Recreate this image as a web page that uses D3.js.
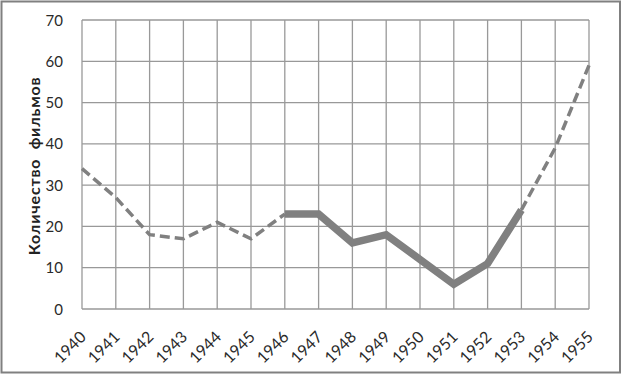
<!DOCTYPE html>
<html><head><meta charset="utf-8">
<script src="https://cdn.jsdelivr.net/npm/d3@7"></script>
<style>body{margin:0;background:#fff;} svg{display:block;}</style>
</head><body>
<svg id="c" width="624" height="375"></svg>
<script>
const years = [1940,1941,1942,1943,1944,1945,1946,1947,1948,1949,1950,1951,1952,1953,1954,1955];
const films = [34,27,18,17,21,17,23,23,16,18,12,6,11,24,39,59];
const yTicks = [0,10,20,30,40,50,60,70];
const yTitle = "Количество  фильмов";
// segments: dashed before 1946, solid 1946-1953, dashed after 1953
const solidStart = 1946, solidEnd = 1953;

const svg = d3.select("#c");
const m = {l:82, r:589, t:20, b:309};
const x = d3.scaleLinear().domain([1940,1955]).range([m.l, m.r]);
const y = d3.scaleLinear().domain([0,70]).range([m.b, m.t]);
const font = "Lato, 'Open Sans', sans-serif";

svg.append("rect").attr("x",1.5).attr("y",1.5).attr("width",618.5).attr("height",371)
  .attr("fill","#fff").attr("stroke","#808080").attr("stroke-width",2);

const g = svg.append("g");
g.selectAll(".hg").data(yTicks).join("line")
  .attr("x1",m.l).attr("x2",m.r).attr("y1",d=>y(d)).attr("y2",d=>y(d))
  .attr("stroke","#999").attr("stroke-width",1.3);
g.selectAll(".vg").data(years).join("line")
  .attr("x1",d=>x(d)).attr("x2",d=>x(d)).attr("y1",m.t).attr("y2",m.b)
  .attr("stroke","#999").attr("stroke-width",1.3);

svg.selectAll(".yl").data(yTicks).join("text")
  .attr("x",m.l-19).attr("y",d=>y(d)+5.5).attr("text-anchor","end")
  .attr("font-family",font).attr("font-size",15).attr("fill","#2a2a2a")
  .text(d=>d);

svg.selectAll(".xl").data(years).join("text")
  .attr("transform",d=>`translate(${x(d)+5},${m.b+29}) rotate(-45)`)
  .attr("text-anchor","end")
  .attr("font-family",font).attr("font-size",16).attr("fill","#2a2a2a")
  .text(d=>d);

svg.append("text").attr("transform",`translate(40,166) rotate(-90)`)
  .attr("text-anchor","middle").attr("font-family",font)
  .attr("font-size",16).attr("font-weight","bold").attr("fill","#222")
  .attr("letter-spacing",0.8)
  .style("white-space","pre")
  .text(yTitle);

const data = years.map((yr,i)=>({yr, v:films[i]}));
const line = d3.line().x(d=>x(d.yr)).y(d=>y(d.v));
const seg1 = data.filter(d=>d.yr<=solidStart);
const seg2 = data.filter(d=>d.yr>=solidStart && d.yr<=solidEnd);
const seg3 = data.filter(d=>d.yr>=solidEnd);
[seg1,seg3].forEach(s=>{
  svg.append("path").attr("d",line(s)).attr("fill","none").attr("stroke","#808080")
    .attr("stroke-width",3.5).attr("stroke-dasharray","10,5");
});
svg.append("path").attr("d",line(seg2)).attr("fill","none").attr("stroke","#808080")
  .attr("stroke-width",7.5).attr("stroke-linejoin","miter");
</script>
</body></html>
